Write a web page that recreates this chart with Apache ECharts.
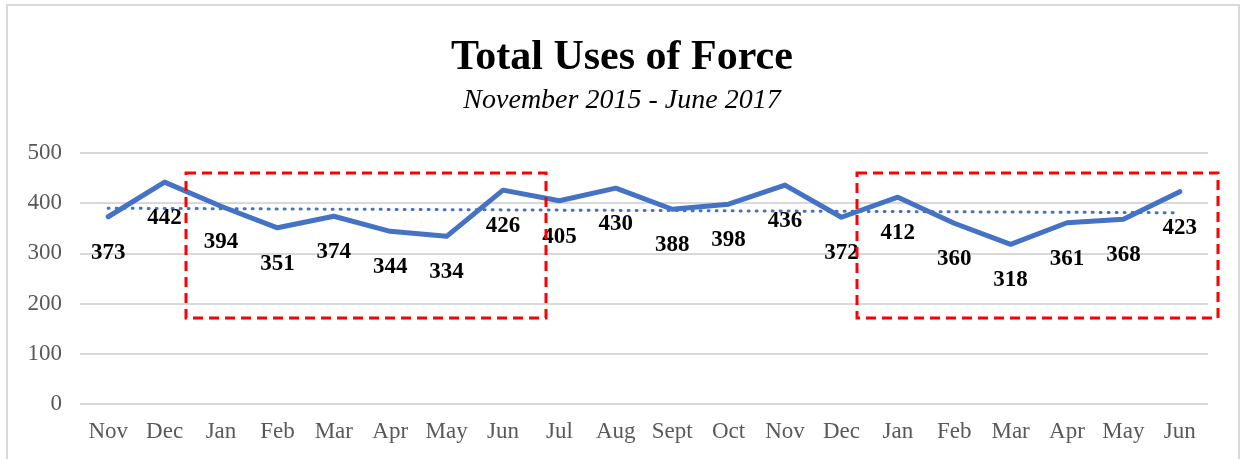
<!DOCTYPE html>
<html>
<head>
<meta charset="utf-8">
<script src="https://cdn.jsdelivr.net/npm/echarts@6/dist/echarts.min.js"></script>
<style>
  html, body { margin: 0; padding: 0; background: #fff; }
  #chart { width: 1244px; height: 459px; }
</style>
</head>
<body>
<div id="chart"></div>
<script>
// 数据
const months = ['Nov', 'Dec', 'Jan', 'Feb', 'Mar', 'Apr', 'May', 'Jun', 'Jul', 'Aug',
  'Sept', 'Oct', 'Nov', 'Dec', 'Jan', 'Feb', 'Mar', 'Apr', 'May', 'Jun'];
const uses = [373, 442, 394, 351, 374, 344, 334, 426, 405, 430,
  388, 398, 436, 372, 412, 360, 318, 361, 368, 423];
// trendline ends
const trendStart = 390;
const trendEnd = 381;

const trendData = months.map((m, i) => {
  if (i === 0) return trendStart;
  if (i === months.length - 1) return trendEnd;
  return null;
});

const serif = 'Liberation Serif';
const chart = echarts.init(document.getElementById('chart'));

const option = {
  animation: false,
  title: {
    text: 'Total Uses of Force',
    subtext: 'November 2015 - June 2017',
    left: 'center',
    top: 32,
    itemGap: 8,
    textStyle: { fontFamily: serif, fontSize: 42, fontWeight: 'bold', color: '#000' },
    subtextStyle: { fontFamily: serif, fontSize: 28, fontStyle: 'italic', color: '#000' }
  },
  grid: { left: 80, right: 36, top: 153, bottom: 55 },
  xAxis: {
    type: 'category',
    data: months,
    axisLine: { show: false },
    axisTick: { show: false },
    axisLabel: { fontFamily: serif, fontSize: 23, color: '#595959', margin: 16, interval: 0 }
  },
  yAxis: {
    type: 'value',
    min: 0,
    max: 500,
    interval: 100,
    axisLabel: { fontFamily: serif, fontSize: 23, color: '#595959', margin: 18 },
    splitLine: { lineStyle: { color: '#d9d9d9', width: 2 } }
  },
  series: [
    {
      name: 'Uses of Force',
      type: 'line',
      data: uses,
      showSymbol: true,
      symbol: 'circle',
      symbolSize: 1,
      itemStyle: { color: 'rgba(0,0,0,0)' },
      lineStyle: { color: '#4472C4', width: 5, cap: 'round', join: 'round' },
      label: {
        show: true,
        position: 'bottom',
        distance: 24,
        fontFamily: serif,
        fontSize: 23,
        fontWeight: 'bold',
        color: '#000'
      },
      z: 3
    },
    {
      name: 'Trend',
      type: 'line',
      data: trendData,
      connectNulls: true,
      showSymbol: false,
      symbol: 'none',
      lineStyle: { color: '#4472C4', width: 3, type: [1, 7], cap: 'round' },
      z: 2
    }
  ],
  graphic: [
    {
      type: 'rect',
      shape: { x: 7, y: 5, width: 1232, height: 480 },
      style: { fill: 'none', stroke: '#d9d9d9', lineWidth: 2 },
      silent: true
    },
    {
      type: 'rect',
      shape: { x: 186, y: 173, width: 360, height: 145 },
      style: { fill: 'none', stroke: '#ff0000', lineWidth: 3, lineDash: [10, 6] },
      z: 10
    },
    {
      type: 'rect',
      shape: { x: 857, y: 173, width: 361, height: 145 },
      style: { fill: 'none', stroke: '#ff0000', lineWidth: 3, lineDash: [10, 6] },
      z: 10
    }
  ]
};

chart.setOption(option);
window.addEventListener('resize', () => chart.resize());
</script>
</body>
</html>
